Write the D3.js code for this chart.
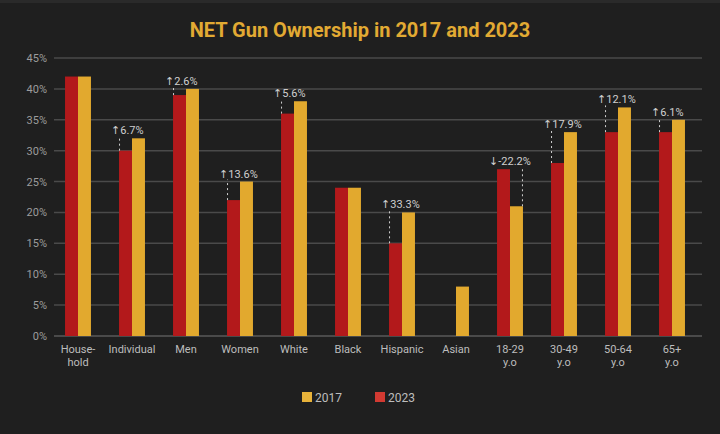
<!DOCTYPE html>
<html>
<head>
<meta charset="utf-8">
<script src="https://cdn.jsdelivr.net/npm/d3@7/dist/d3.min.js"></script>
<style>
  html, body { margin: 0; padding: 0; background: #1f1f1f; }
  svg { display: block; font-family: Roboto, "Noto Sans", "DejaVu Sans", sans-serif; }
</style>
</head>
<body>
<svg id="chart" width="720" height="434"></svg>
<script>
var categories = ["House-\nhold", "Individual", "Men", "Women", "White", "Black",
                  "Hispanic", "Asian", "18-29\ny.o", "30-49\ny.o", "50-64\ny.o", "65+\ny.o"];
var series = ["2023", "2017"];
var values2023 = [42, 30, 39, 22, 36, 24, 15, null, 27, 28, 33, 33];
var values2017 = [42, 32, 40, 25, 38, 24, 20, 8, 21, 33, 37, 35];
var yTicks = [0, 5, 10, 15, 20, 25, 30, 35, 40, 45];

var colors = { "2023": "#b3191b", "2017": "#e2a92e" },
    legendColors = { "2023": "#d23a32", "2017": "#e7b23a" };

var svg = d3.select("#chart"),
    width = 720, height = 434;

svg.append("rect").attr("width", width).attr("height", height).attr("fill", "#1f1f1f");
svg.append("rect").attr("width", width).attr("height", 3).attr("fill", "#2a2a2a");

svg.append("text")
    .attr("x", 360).attr("y", 37)
    .attr("text-anchor", "middle")
    .style("font-size", "20px").style("font-weight", "bold")
    .style("fill", "#e2aa33")
    .text("NET Gun Ownership in 2017 and 2023");

var x0 = d3.scaleBand().domain(categories).range([51, 699])
        .paddingInner(0.52).paddingOuter(0.26),
    x1 = d3.scaleBand().domain(series).range([0, x0.bandwidth()]),
    y = d3.scaleLinear().domain([0, 45]).range([336, 58]);

// grid + y labels
var grid = svg.append("g");
grid.selectAll("line").data(yTicks).enter().append("line")
    .attr("x1", 54).attr("x2", 702)
    .attr("y1", function (d) { return y(d); })
    .attr("y2", function (d) { return y(d); })
    .attr("stroke", function (d) { return d === 0 ? "#5a5a5a" : "#4a4a4a"; })
    .attr("stroke-width", 1.5);
grid.selectAll("text").data(yTicks).enter().append("text")
    .attr("x", 47).attr("y", function (d) { return y(d) + 4; })
    .attr("text-anchor", "end")
    .style("font-size", "11px").style("fill", "#9c9c9c")
    .text(function (d) { return d + "%"; });

// bars
var rows = categories.map(function (c, i) {
    return { cat: c, "2023": values2023[i], "2017": values2017[i] };
});

var groups = svg.append("g").selectAll("g").data(rows).enter().append("g")
    .attr("transform", function (d) { return "translate(" + x0(d.cat) + ",0)"; });

groups.selectAll("rect")
    .data(function (d) {
        return series.filter(function (s) { return d[s] !== null; })
            .map(function (s) { return { key: s, value: d[s] }; });
    })
    .enter().append("rect")
    .attr("x", function (d) { return x1(d.key); })
    .attr("width", x1.bandwidth())
    .attr("y", function (d) { return y(d.value); })
    .attr("height", function (d) { return y(0) - y(d.value); })
    .attr("fill", function (d) { return colors[d.key]; });

// change annotations (hyphen minus, like the source)
var pct = d3.formatLocale({ decimal: ".", thousands: ",", grouping: [3], currency: ["", ""], minus: "-" }).format(".1f");
var notes = rows.filter(function (d) {
    return d["2023"] !== null && d["2023"] !== d["2017"];
});
var noteG = svg.append("g").selectAll("g").data(notes).enter().append("g")
    .attr("transform", function (d) { return "translate(" + x0(d.cat) + ",0)"; });

function lineX(d) {
    return d["2017"] > d["2023"] ? x1("2023") + 0.5 : x1("2017") + x1.bandwidth() - 0.5;
}
noteG.append("line")
    .attr("x1", lineX).attr("x2", lineX)
    .attr("y1", function (d) { return y(Math.min(d["2017"], d["2023"])); })
    .attr("y2", function (d) { return y(Math.max(d["2017"], d["2023"])) - 2; })
    .attr("stroke", "#d0d0d0")
    .attr("stroke-width", 1)
    .attr("stroke-dasharray", "2,3");

noteG.append("text")
    .attr("x", -8)
    .attr("y", function (d) { return y(Math.max(d["2017"], d["2023"])) - 4; })
    .style("font-size", "11px").style("fill", "#cfcfcf")
    .text(function (d) {
        var ch = (d["2017"] - d["2023"]) / d["2023"] * 100;
        return (ch > 0 ? "\u2191" : "\u2193") + pct(ch) + "%";
    });

// x labels
var xl = svg.append("g").selectAll("text").data(categories).enter().append("text")
    .attr("x", function (d) { return x0(d) + x0.bandwidth() / 2; })
    .attr("y", 353)
    .attr("text-anchor", "middle")
    .style("font-size", "11px").style("fill", "#bdbdbd");
xl.selectAll("tspan")
    .data(function (d) { return d.split("\n"); })
    .enter().append("tspan")
    .attr("x", function () { return d3.select(this.parentNode).attr("x"); })
    .attr("dy", function (d, i) { return i === 0 ? 0 : 13; })
    .text(function (d) { return d; });

// legend
var legend = svg.append("g").selectAll("g").data(["2017", "2023"]).enter().append("g")
    .attr("transform", function (d, i) { return "translate(" + (302 + i * 73) + ",392)"; });
legend.append("rect").attr("width", 10).attr("height", 10)
    .attr("fill", function (d) { return legendColors[d]; });
legend.append("text").attr("x", 13).attr("y", 9.5)
    .style("font-size", "12px").style("fill", "#bdbdbd")
    .text(function (d) { return d; });
</script>
</body>
</html>
